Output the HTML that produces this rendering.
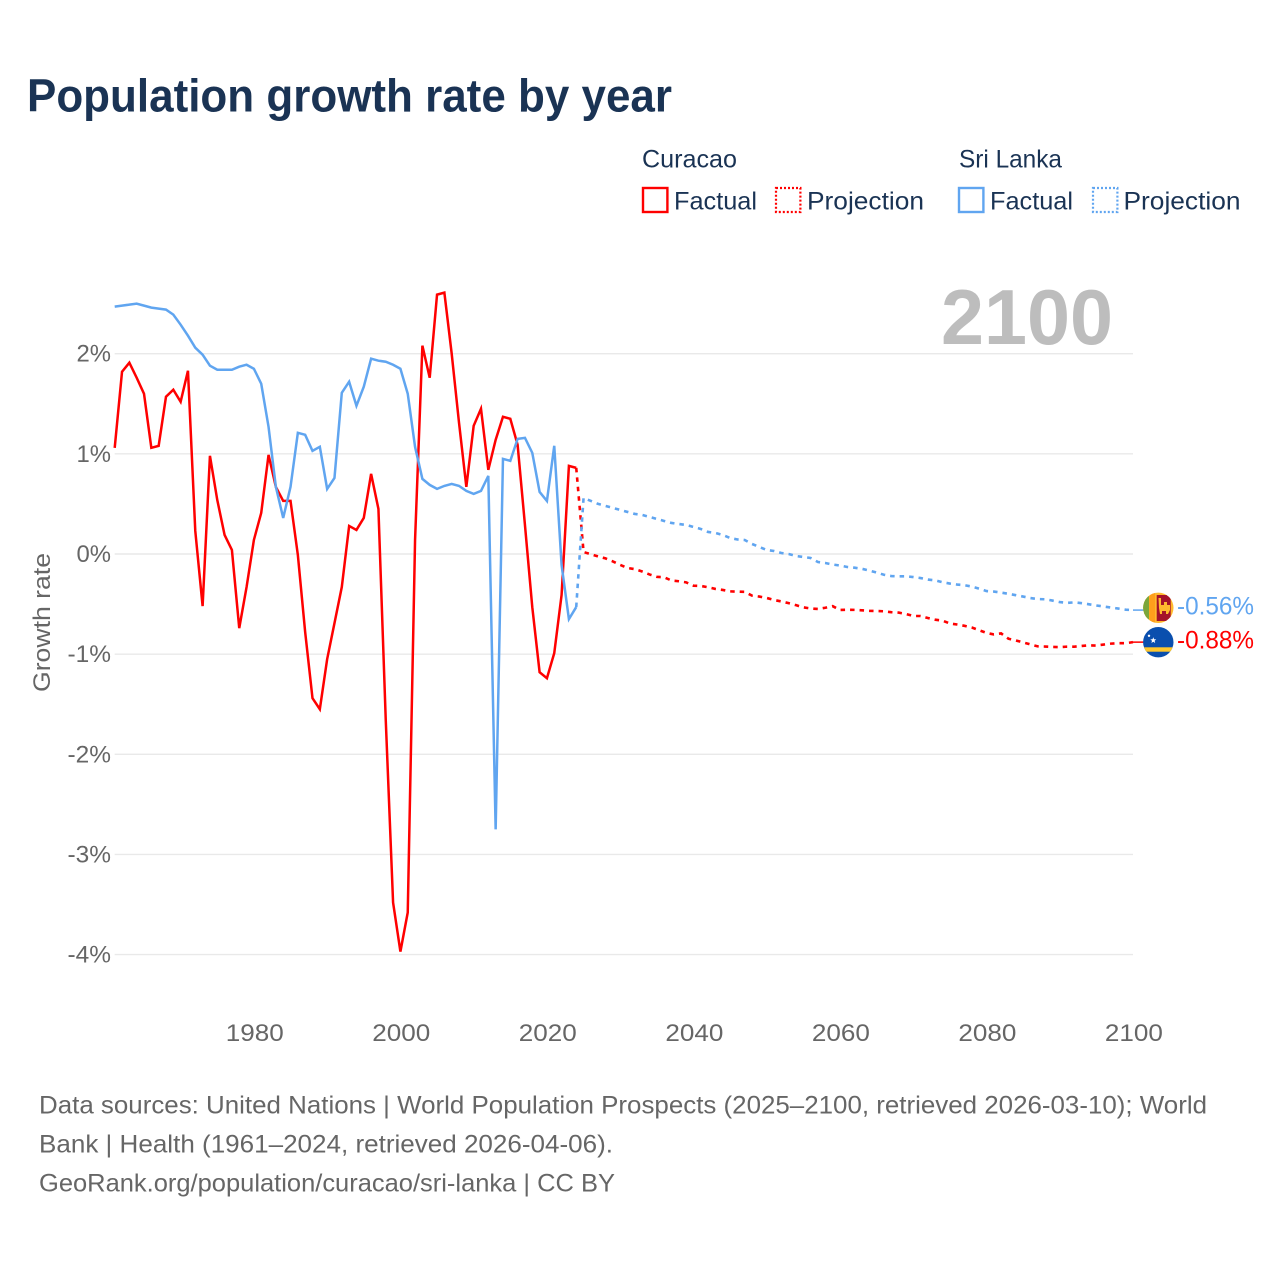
<!DOCTYPE html>
<html lang="en">
<head>
<meta charset="utf-8">
<title>Population growth rate by year</title>
<style>
  html, body { margin: 0; padding: 0; background: #ffffff; }
  svg { display: block; font-family: "Liberation Sans", sans-serif; }
</style>
</head>
<body>
<svg id="chart" xmlns="http://www.w3.org/2000/svg" width="1280" height="1280" viewBox="0 0 1280 1280">
  <defs>
    <clipPath id="clip-lk"><circle cx="1158.3" cy="607.8" r="15.2"/></clipPath>
    <clipPath id="clip-cw"><circle cx="1158.3" cy="642.2" r="15.2"/></clipPath>
  </defs>
  <rect x="0" y="0" width="1280" height="1280" fill="#ffffff"/>
  <text x="27" y="111.5" font-size="46" font-weight="700" fill="#1a3354" textLength="645" lengthAdjust="spacingAndGlyphs">Population growth rate by year</text>

  <g font-size="25" fill="#1a3354">
    <text x="642" y="167.5" textLength="95" lengthAdjust="spacingAndGlyphs">Curacao</text>
    <text x="959" y="167.5" textLength="103" lengthAdjust="spacingAndGlyphs">Sri Lanka</text>
    <rect x="643" y="188" width="24.4" height="24" fill="none" stroke="#ff0000" stroke-width="2.4"/>
    <text x="674" y="209.5" textLength="83" lengthAdjust="spacingAndGlyphs">Factual</text>
    <rect x="776" y="188" width="24.4" height="24" fill="none" stroke="#ff0000" stroke-width="2.2" stroke-dasharray="2 2"/>
    <text x="807" y="209.5" textLength="117" lengthAdjust="spacingAndGlyphs">Projection</text>
    <rect x="959" y="188" width="24.4" height="24" fill="none" stroke="#60a5f0" stroke-width="2.4"/>
    <text x="990" y="209.5" textLength="83" lengthAdjust="spacingAndGlyphs">Factual</text>
    <rect x="1093" y="188" width="24.4" height="24" fill="none" stroke="#60a5f0" stroke-width="2.2" stroke-dasharray="2 2"/>
    <text x="1123.5" y="209.5" textLength="117" lengthAdjust="spacingAndGlyphs">Projection</text>
  </g>

  <g id="grid"></g>
  <g id="y-ticks"></g>
  <g id="x-ticks"></g>

  <text x="941" y="344" font-size="78" font-weight="700" fill="#bdbdbd" textLength="172" lengthAdjust="spacingAndGlyphs">2100</text>
  <text transform="translate(50 692) rotate(-90)" font-size="24" fill="#666666" textLength="139" lengthAdjust="spacingAndGlyphs">Growth rate</text>

  <g id="series"></g>

  <g clip-path="url(#clip-lk)">
    <rect x="1142" y="592" width="33" height="32" fill="#ffb92e"/>
    <rect x="1143" y="592" width="6" height="32" fill="#7aa63c"/>
    <rect x="1149.3" y="592" width="5.7" height="32" fill="#ff9f1c"/>
    <rect x="1156.7" y="595" width="14" height="26" fill="#a5122a"/>
    <path d="M1158.5 598h2.5v7h3v-3h3v3h3v5l-2 4h-2v-3h-4v3h-2l-1-6z" fill="#ffb92e"/>
  </g>
  <g clip-path="url(#clip-cw)">
    <rect x="1142" y="626" width="33" height="33" fill="#0a4fae"/>
    <rect x="1142" y="647.3" width="33" height="4.4" fill="#ffc72c"/>
    <circle cx="1149" cy="635.8" r="1.2" fill="#ffffff"/>
    <polygon points="1153.3,637.2 1154.1,639.3 1156.3,639.4 1154.6,640.8 1155.2,643 1153.3,641.8 1151.4,643 1152,640.8 1150.3,639.4 1152.5,639.3" fill="#ffffff"/>
  </g>
  <text x="1177" y="614.5" font-size="25" fill="#60a5f0" textLength="77" lengthAdjust="spacingAndGlyphs">-0.56%</text>
  <text x="1177" y="648.5" font-size="25" fill="#ff0000" textLength="77" lengthAdjust="spacingAndGlyphs">-0.88%</text>

  <g font-size="25" fill="#666666">
    <text x="39" y="1113.5" textLength="1168" lengthAdjust="spacingAndGlyphs">Data sources: United Nations | World Population Prospects (2025–2100, retrieved 2026-03-10); World</text>
    <text x="39" y="1152.5" textLength="574" lengthAdjust="spacingAndGlyphs">Bank | Health (1961–2024, retrieved 2026-04-06).</text>
    <text x="39" y="1191.5" textLength="576" lengthAdjust="spacingAndGlyphs">GeoRank.org/population/curacao/sri-lanka | CC BY</text>
  </g>
</svg>
<script>
const factualStartYear = 1961;
const projectionStartYear = 2025;
const curacaoFactual = [
  1.06,1.82,1.91,1.76,1.60,1.06,1.08,1.57,1.64,1.52,
  1.83,0.23,-0.52,0.98,0.54,0.19,0.04,-0.74,-0.33,0.14,
  0.41,0.99,0.67,0.53,0.53,-0.01,-0.78,-1.44,-1.55,-1.05,
  -0.69,-0.33,0.28,0.24,0.36,0.80,0.45,-1.66,-3.48,-3.97,
  -3.58,0.14,2.08,1.76,2.59,2.61,2.00,1.31,0.67,1.28,
  1.45,0.84,1.14,1.37,1.35,1.09,0.29,-0.53,-1.18,-1.24,
  -0.99,-0.41,0.88,0.86
];
const sriLankaFactual = [
  2.47,2.48,2.49,2.50,2.48,2.46,2.45,2.44,2.39,2.29,
  2.18,2.06,1.99,1.88,1.84,1.84,1.84,1.87,1.89,1.85,
  1.70,1.27,0.67,0.36,0.67,1.21,1.19,1.03,1.07,0.65,
  0.76,1.61,1.72,1.48,1.67,1.95,1.93,1.92,1.89,1.85,
  1.60,1.07,0.75,0.69,0.65,0.68,0.70,0.68,0.63,0.60,
  0.63,0.78,-2.75,0.95,0.93,1.15,1.16,1.01,0.62,0.53,
  1.08,-0.11,-0.65,-0.53
];
const curacaoProjection = [
  0.02,-0.003,-0.025,-0.044,-0.074,-0.109,-0.14,-0.151,-0.175,-0.204,
  -0.228,-0.232,-0.265,-0.272,-0.283,-0.316,-0.319,-0.332,-0.349,-0.359,
  -0.373,-0.376,-0.378,-0.416,-0.425,-0.439,-0.459,-0.474,-0.491,-0.511,
  -0.533,-0.544,-0.549,-0.537,-0.521,-0.559,-0.557,-0.558,-0.562,-0.567,
  -0.569,-0.572,-0.581,-0.585,-0.599,-0.619,-0.619,-0.639,-0.656,-0.665,
  -0.694,-0.704,-0.717,-0.734,-0.761,-0.788,-0.803,-0.793,-0.846,-0.863,
  -0.883,-0.903,-0.922,-0.924,-0.928,-0.93,-0.925,-0.925,-0.918,-0.912,
  -0.914,-0.904,-0.895,-0.891,-0.891,-0.88
];
const sriLankaProjection = [
  0.56,0.53,0.50,0.48,0.46,0.44,0.42,0.40,0.39,0.37,
  0.35,0.33,0.31,0.30,0.29,0.27,0.25,0.22,0.21,0.19,
  0.16,0.145,0.14,0.10,0.07,0.04,0.03,0.01,0,-0.02,
  -0.03,-0.04,-0.08,-0.09,-0.105,-0.115,-0.13,-0.137,-0.148,-0.165,
  -0.185,-0.207,-0.22,-0.223,-0.223,-0.23,-0.24,-0.255,-0.263,-0.282,
  -0.295,-0.305,-0.312,-0.325,-0.346,-0.37,-0.375,-0.385,-0.398,-0.411,
  -0.425,-0.44,-0.45,-0.452,-0.465,-0.48,-0.488,-0.483,-0.491,-0.502,
  -0.514,-0.524,-0.535,-0.545,-0.556,-0.56
];
const yTickValues = [2, 1, 0, -1, -2, -3, -4];
const yTickLabels = ['2%', '1%', '0%', '-1%', '-2%', '-3%', '-4%'];
const xTickValues = [1980, 2000, 2020, 2040, 2060, 2080, 2100];
const xTickLabels = ['1980', '2000', '2020', '2040', '2060', '2080', '2100'];

const svgNS = 'http://www.w3.org/2000/svg';
function xScale(year) { return 114.7 + (year - 1961) * (1133 - 114.7) / 139; }
function yScale(v) { return 554 - v * 100.15; }
function labelWidth(s) {
  let w = 0;
  for (const c of s) { w += c === '%' ? 20 : c === '-' ? 9 : 14.5; }
  return w;
}
function toPath(points) {
  return points.map(function (p, i) {
    return (i ? 'L' : 'M') + xScale(p[0]).toFixed(2) + ' ' + yScale(p[1]).toFixed(2);
  }).join(' ');
}
function yearPoints(values, startYear) {
  return values.map(function (v, i) { return [startYear + i, v]; });
}
function newLine(parent, d, color, width, dash) {
  const el = document.createElementNS(svgNS, 'path');
  el.setAttribute('d', d);
  el.setAttribute('fill', 'none');
  el.setAttribute('stroke', color);
  el.setAttribute('stroke-width', width);
  el.setAttribute('stroke-linejoin', 'miter');
  if (dash) el.setAttribute('stroke-dasharray', dash);
  parent.appendChild(el);
  return el;
}

const gridGroup = document.getElementById('grid');
const yTickGroup = document.getElementById('y-ticks');
const xTickGroup = document.getElementById('x-ticks');
const seriesGroup = document.getElementById('series');

yTickValues.forEach(function (v, i) {
  const line = document.createElementNS(svgNS, 'line');
  
  
  line.setAttribute('x1', xScale(1961));
  line.setAttribute('x2', xScale(2100));
  line.setAttribute('y1', yScale(v));
  line.setAttribute('y2', yScale(v));
  line.setAttribute('stroke', '#e9e9e9');
  line.setAttribute('stroke-width', '1.4');
  gridGroup.appendChild(line);

  const t = document.createElementNS(svgNS, 'text');
  
  
  t.setAttribute('x', 111);
  t.setAttribute('y', yScale(v) + 8);
  t.setAttribute('text-anchor', 'end');
  t.setAttribute('font-size', '24.5');
  t.setAttribute('fill', '#666666');
  t.setAttribute('textLength', labelWidth(yTickLabels[i]));
  t.setAttribute('lengthAdjust', 'spacingAndGlyphs');
  t.textContent = yTickLabels[i];
  yTickGroup.appendChild(t);
});

xTickValues.forEach(function (year, i) {
  const t = document.createElementNS(svgNS, 'text');
  
  
  t.setAttribute('x', xScale(year) + 0.9);
  t.setAttribute('y', 1041);
  t.setAttribute('text-anchor', 'middle');
  t.setAttribute('font-size', '24.5');
  t.setAttribute('fill', '#666666');
  t.setAttribute('textLength', labelWidth(xTickLabels[i]));
  t.setAttribute('lengthAdjust', 'spacingAndGlyphs');
  t.textContent = xTickLabels[i];
  xTickGroup.appendChild(t);
});

function drawSeries(factual, projection, color, key) {
  const factualPts = yearPoints(factual, factualStartYear);
  const projPts = [factualPts[factualPts.length - 1]].concat(yearPoints(projection, projectionStartYear));

  const solid = newLine(seriesGroup, toPath(factualPts), color, 2.5, null);
  
  

  const dashed = newLine(seriesGroup, toPath(projPts), color, 2.6, '4.5 5');
  
  

  const endValue = projection[projection.length - 1];
  const connector = document.createElementNS(svgNS, 'line');
  
  
  connector.setAttribute('x1', xScale(2100));
  connector.setAttribute('x2', 1144);
  connector.setAttribute('y1', yScale(endValue));
  connector.setAttribute('y2', yScale(endValue));
  connector.setAttribute('stroke', color);
  connector.setAttribute('stroke-width', '1.5');
  seriesGroup.appendChild(connector);
}
drawSeries(curacaoFactual, curacaoProjection, '#ff0000', 'curacao');
drawSeries(sriLankaFactual, sriLankaProjection, '#60a5f0', 'sri-lanka');
</script>
</body>
</html>
